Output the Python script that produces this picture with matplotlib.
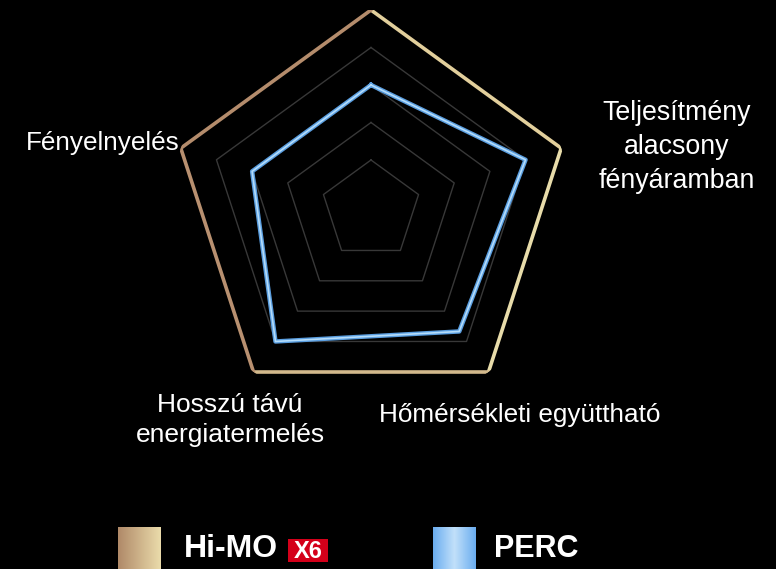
import numpy as np
import matplotlib
matplotlib.use("Agg")
from matplotlib import pyplot as plt
from matplotlib.patches import Rectangle

plt.rcParams['font.family'] = ['Liberation Sans', 'DejaVu Sans']

# Radar data (top axis carries no label in the reference)
categories = ['', 'Teljesítmény\nalacsony\nfényáramban', 'Hőmérsékleti együttható',
              'Hosszú távú\nenergiatermelés', 'Fényelnyelés']
himo_x6 = [5, 5, 5, 5, 5]
perc = [3, 4, 3.67, 4, 3]
grid_levels = [1, 2, 3, 4, 5]
legend_labels = ['Hi-MO', 'X6', 'PERC']

W, H = 776, 569
fig = plt.figure(figsize=(W / 100, H / 100), dpi=100, facecolor='black')


def fx(px):
    return px / W


def fy(py):
    return 1 - py / H


# polar axes centred at (371, 210), radius 200 px
ax = fig.add_axes([fx(171), fy(410), 400 / W, 400 / H], projection='polar')
ax.set_facecolor('black')
ax.set_theta_offset(np.pi / 2)
ax.set_theta_direction(-1)
ax.set_ylim(-1 / 3, 5)
ax.grid(False)
ax.spines['polar'].set_visible(False)
ax.set_xticks([])
ax.set_yticks([])

n = len(categories)
angles = np.linspace(0, 2 * np.pi, n, endpoint=False)
closed = np.append(angles, angles[0])

for lv in grid_levels[:-1]:
    ax.plot(closed, [lv] * (n + 1), color='#383838', lw=1.0, zorder=1)

# Hi-MO X6 outline, gold shading brown on the left, pale on the right
edge_cols = ['#e2cf9c', '#e8dcaa', '#d2b98c', '#b89070', '#b48c6c']
for i in range(n):
    j = (i + 1) % n
    ax.plot([angles[i], angles[j] if j else 2 * np.pi], [himo_x6[i], himo_x6[j]],
            color=edge_cols[i], lw=2.6, solid_capstyle='round', zorder=3)

perc_c = perc + [perc[0]]
ax.plot(closed, perc_c, color='#5a9ee0', lw=3.2, zorder=4)
ax.plot(closed, perc_c, color='#b4dcfa', lw=1.2, zorder=5)

# axis labels
fig.text(fx(677), fy(147), categories[1], color='white', fontsize=19.3,
         ha='center', va='center', linespacing=1.38)
fig.text(fx(520), fy(415), categories[2], color='white', fontsize=18.8,
         ha='center', va='center')
fig.text(fx(230), fy(420), categories[3], color='white', fontsize=19.0,
         ha='center', va='center', linespacing=1.36)
fig.text(fx(103), fy(143), categories[4], color='white', fontsize=18.8,
         ha='center', va='center')

# legend with gradient swatches
grad = np.linspace(0, 1, 64)
gold = np.array([[0.69, 0.54, 0.41], [0.92, 0.86, 0.67]])
gold_img = (gold[0][None, :] * (1 - grad)[:, None] + gold[1][None, :] * grad[:, None])[None, :, :]
blue_t = 1 - np.abs(grad - 0.5) * 2
blue = np.array([[0.42, 0.68, 0.94], [0.76, 0.88, 0.98]])
blue_img = (blue[0][None, :] * (1 - blue_t)[:, None] + blue[1][None, :] * blue_t[:, None])[None, :, :]

for x0, img in [(118, gold_img), (433, blue_img)]:
    sw = fig.add_axes([fx(x0), fy(569), 42 / W, 42 / H])
    sw.imshow(img, aspect='auto', interpolation='bilinear')
    sw.axis('off')

fig.text(fx(184), fy(549), legend_labels[0], color='white', fontsize=23,
         fontweight='bold', ha='left', va='center')
fig.patches.append(Rectangle((fx(288), fy(562)), 40 / W, 23 / H, transform=fig.transFigure,
                             facecolor='#d4001a', edgecolor='none'))
fig.text(fx(308), fy(551), legend_labels[1], color='white', fontsize=17,
         fontweight='bold', ha='center', va='center')
fig.text(fx(494), fy(549), legend_labels[2], color='white', fontsize=22,
         fontweight='bold', ha='left', va='center')

fig.savefig('out.png', dpi=100, facecolor='black')
